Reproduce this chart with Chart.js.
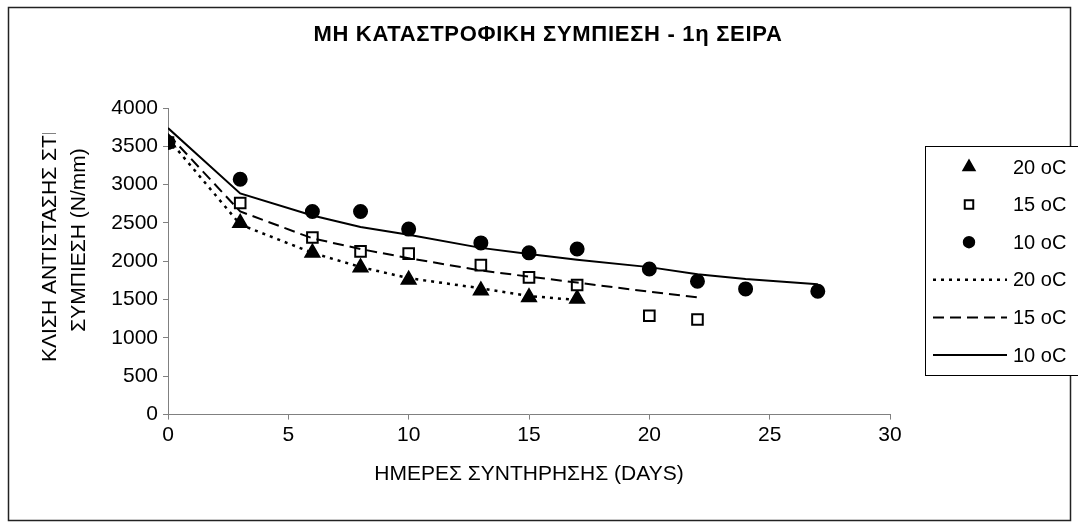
<!DOCTYPE html>
<html>
<head>
<meta charset="utf-8">
<script src="https://cdn.jsdelivr.net/npm/chart.js@4.4.1/dist/chart.umd.min.js"></script>
<style>
  html, body { margin: 0; padding: 0; background: #fff; }
  #wrap { width: 1078px; height: 528px; position: relative; }
</style>
</head>
<body>
<div id="wrap"><canvas id="grafico"></canvas></div>
<script>
// Ημέρες συντήρησης ανά θερμοκρασία
const dias20 = [0, 3, 6, 8, 10, 13, 15, 17];
const dias15 = [0, 3, 6, 8, 10, 13, 15, 17, 20, 22];
const dias10 = [0, 3, 6, 8, 10, 13, 15, 17, 20, 22, 24, 27];

// Μετρήσεις (N/mm)
const medidas20 = [3550, 2500, 2110, 1920, 1760, 1620, 1530, 1510];
const medidas15 = [3550, 2760, 2310, 2130, 2100, 1950, 1790, 1690, 1290, 1240];
const medidas10 = [3550, 3070, 2650, 2650, 2420, 2240, 2110, 2160, 1900, 1740, 1640, 1610];

// Καμπύλες τάσης
const tendencia20 = [3600, 2480, 2110, 1925, 1780, 1648, 1547, 1495];
const tendencia15 = [3660, 2650, 2300, 2160, 2041, 1880, 1800, 1722, 1604, 1530];
const tendencia10 = [3738, 2885, 2597, 2448, 2345, 2175, 2095, 2020, 1924, 1832, 1770, 1701];

const etiquetas = ["20 oC", "15 oC", "10 oC"];
const titulo = "ΜΗ ΚΑΤΑΣΤΡΟΦΙΚΗ ΣΥΜΠΙΕΣΗ - 1η ΣΕΙΡΑ";
const tituloY = ["ΚΛΙΣΗ ΑΝΤΙΣΤΑΣΗΣ ΣΤΗ", "ΣΥΜΠΙΕΣΗ (N/mm)"];
const tituloX = "ΗΜΕΡΕΣ ΣΥΝΤΗΡΗΣΗΣ (DAYS)";

const FUENTE = "'Liberation Sans', Arial, sans-serif";

function puntos(xs, ys) {
  return xs.map((x, i) => ({ x: x, y: ys[i] }));
}

// Marco exterior, título, título del eje Y (recortado arriba) y leyenda con caja
const marco = {
  id: "marco",
  beforeDraw(chart) {
    const ctx = chart.ctx;
    ctx.save();
    ctx.fillStyle = "#fff";
    ctx.fillRect(0, 0, chart.width, chart.height);
    ctx.restore();
  },
  afterDraw(chart) {
    const ctx = chart.ctx;
    ctx.save();
    ctx.strokeStyle = "#222";
    ctx.lineWidth = 1.5;
    ctx.strokeRect(8.5, 7.5, 1062, 513);

    // título
    ctx.save();
    ctx.fillStyle = "#000";
    ctx.font = "bold 22px " + FUENTE;
    ctx.letterSpacing = "0.7px";
    ctx.textAlign = "center";
    ctx.textBaseline = "middle";
    ctx.fillText(titulo, 548, 35);
    ctx.restore();

    // título eje Y, dos líneas
    ctx.save();
    ctx.beginPath();
    ctx.rect(0, 133, 160, 300);
    ctx.clip();
    ctx.fillStyle = "#000";
    ctx.font = "21px " + FUENTE;
    ctx.textAlign = "center";
    ctx.textBaseline = "middle";
    ctx.translate(50, 241);
    ctx.rotate(-Math.PI / 2);
    ctx.fillText(tituloY[0], 0, 0);
    ctx.fillText(tituloY[1], 1, 29);
    ctx.restore();

    // leyenda
    const lx = 925, ly = 146, lh = 229;
    ctx.fillStyle = "#fff";
    ctx.fillRect(lx, ly, 160, lh);
    ctx.strokeStyle = "#000";
    ctx.lineWidth = 1;
    ctx.strokeRect(lx + 0.5, ly + 0.5, 160, lh);

    ctx.font = "20px " + FUENTE;
    ctx.textBaseline = "middle";
    chart.data.datasets.forEach((ds, i) => {
      const y = 167 + i * 37.6;
      ctx.save();
      if (ds.showLine) {
        ctx.strokeStyle = "#000";
        ctx.lineWidth = ds.borderWidth;
        ctx.setLineDash(ds.borderDash || []);
        ctx.beginPath();
        ctx.moveTo(933, y);
        ctx.lineTo(1007, y);
        ctx.stroke();
      } else {
        ctx.fillStyle = ds.pointBackgroundColor;
        ctx.strokeStyle = ds.pointBorderColor;
        ctx.lineWidth = ds.pointBorderWidth;
        Chart.helpers.drawPoint(ctx, {
          pointStyle: ds.pointStyle,
          radius: ds.pointRadius * 0.8,
          rotation: 0,
          borderWidth: ds.pointBorderWidth
        }, 969, y);
      }
      ctx.restore();
      ctx.fillStyle = "#000";
      ctx.textAlign = "left";
      ctx.fillText(ds.label, 1013, y + 1);
    });
    ctx.restore();
  }
};

const marcador = (etiqueta, xs, ys, estilo, radio, relleno, orden) => ({
  label: etiqueta,
  data: puntos(xs, ys),
  showLine: false,
  pointStyle: estilo,
  pointRadius: radio,
  pointHoverRadius: radio,
  pointBackgroundColor: relleno,
  pointBorderColor: "#000",
  pointBorderWidth: 2,
  order: orden
});

const curva = (etiqueta, xs, ys, trazo, grosor) => ({
  label: etiqueta,
  data: puntos(xs, ys),
  showLine: true,
  borderColor: "#000",
  borderWidth: grosor,
  borderDash: trazo,
  pointRadius: 0,
  pointHoverRadius: 0,
  fill: false,
  tension: 0,
  order: 0
});

new Chart(document.getElementById("grafico"), {
  type: "scatter",
  data: {
    datasets: [
      marcador(etiquetas[0], dias20, medidas20, "triangle", 8, "#000", 3),
      marcador(etiquetas[1], dias15, medidas15, "rect", 7.5, "#fff", 2),
      marcador(etiquetas[2], dias10, medidas10, "circle", 6.5, "#000", 1),
      curva(etiquetas[0], dias20, tendencia20, [3, 5], 2.5),
      curva(etiquetas[1], dias15, tendencia15, [11, 6], 2),
      curva(etiquetas[2], dias10, tendencia10, [], 2)
    ]
  },
  options: {
    responsive: true,
    maintainAspectRatio: false,
    animation: false,
    layout: { padding: { left: 108, right: 188, top: 108, bottom: 37 } },
    plugins: {
      legend: { display: false },
      tooltip: { enabled: false },
      title: { display: false }
    },
    scales: {
      x: {
        type: "linear",
        min: 0,
        max: 30,
        ticks: { stepSize: 5, color: "#000", padding: 3, font: { family: FUENTE, size: 21 }, callback: v => String(v) },
        grid: { drawOnChartArea: false, drawTicks: true, tickLength: 5, color: "#808080" },
        border: { color: "#808080", width: 1 },
        title: {
          display: true,
          text: tituloX,
          color: "#000",
          font: { family: FUENTE, size: 21 },
          padding: { top: 11, bottom: 4 }
        }
      },
      y: {
        min: 0,
        max: 4000,
        afterFit(escala) { escala.width = 60; },
        ticks: { stepSize: 500, color: "#000", padding: 5, font: { family: FUENTE, size: 21 }, callback: v => String(v) },
        grid: { drawOnChartArea: false, drawTicks: true, tickLength: 5, color: "#808080" },
        border: { color: "#808080", width: 1 }
      }
    }
  },
  plugins: [marco]
});
</script>
</body>
</html>
